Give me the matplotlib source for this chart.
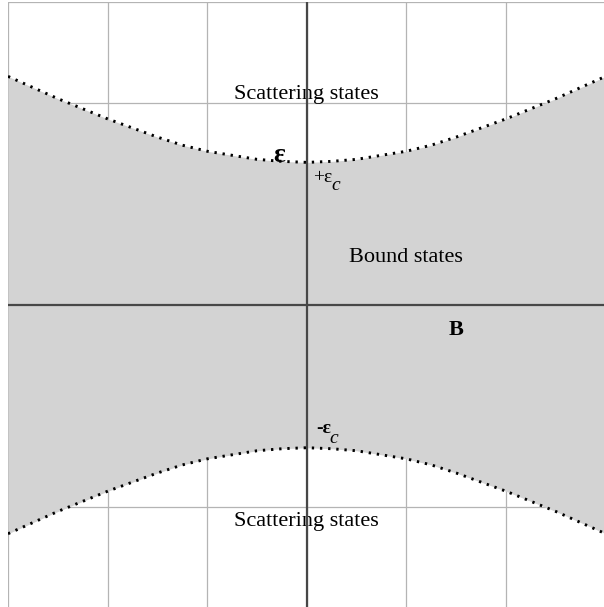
import matplotlib
matplotlib.use('Agg')
import matplotlib.pyplot as plt

# energy levels (upper and lower boundaries of the bound region)
b_vals = [-3.0, -2.75, -2.5, -2.25, -2.0, -1.75, -1.5, -1.25, -1.0, -0.75, -0.5, -0.25,
          0.0, 0.25, 0.5, 0.75, 1.0, 1.25, 1.5, 1.75, 2.0, 2.25, 2.5, 2.75, 3.0]
eps_upper = [2.26, 2.15, 2.04, 1.94, 1.84, 1.75, 1.66, 1.58, 1.52, 1.48, 1.44, 1.42,
             1.41, 1.42, 1.44, 1.48, 1.52, 1.58, 1.66, 1.75, 1.84, 1.94, 2.04, 2.15, 2.26]
eps_lower = [-2.26, -2.15, -2.04, -1.94, -1.84, -1.75, -1.66, -1.58, -1.52, -1.48, -1.44, -1.42,
             -1.41, -1.42, -1.44, -1.48, -1.52, -1.58, -1.66, -1.75, -1.84, -1.94, -2.04, -2.15, -2.26]
grid_ticks = [-3, -2, -1, 0, 1, 2, 3]

plt.rcParams['font.family'] = ['Liberation Serif', 'DejaVu Serif']

fig = plt.figure(figsize=(6.04, 6.07), dpi=100)
ax = fig.add_axes([8 / 604, -1.6 / 607, 597.6 / 604, 607.1 / 607])
ax.set_xlim(-3, 3)
ax.set_ylim(-3, 3)
ax.set_axisbelow(True)

ax.set_xticks(grid_ticks)
ax.set_yticks(grid_ticks)
ax.tick_params(length=0, labelbottom=False, labelleft=False)
ax.grid(True, color='#b4b4b4', linewidth=0.9)
for s in ax.spines.values():
    s.set_visible(False)

ax.fill_between(b_vals, eps_lower, eps_upper, color='#d3d3d3', linewidth=0, zorder=1)
ax.plot(b_vals, eps_upper, color='black', lw=2.1, dashes=(0.8, 2.0), zorder=4)
ax.plot(b_vals, eps_lower, color='black', lw=2.1, dashes=(0.8, 2.0), zorder=4)

ax.axhline(0, color='#474747', lw=1.6, zorder=3)
ax.axvline(0, color='#474747', lw=1.6, zorder=3)

ax.text(0, 2.035, 'Scattering states', fontsize=16, ha='center', va='baseline', zorder=2)
ax.text(0, -2.184, 'Scattering states', fontsize=16, ha='center', va='baseline', zorder=2)
ax.text(1.0, 0.428, 'Bound states', fontsize=16, ha='center', va='baseline', zorder=2)
ax.text(1.5, -0.296, 'B', fontsize=16, fontweight='bold', ha='center', va='baseline', zorder=5)
ax.text(-0.28, 1.418, 'ε', fontsize=20, fontweight='bold', ha='center', va='baseline', zorder=5)

ax.text(0.06, 1.218, '+ε', fontsize=14, ha='left', va='baseline', zorder=5)
ax.text(0.25, 1.136, 'c', fontsize=14, style='italic', ha='left', va='baseline', zorder=5)
ax.text(0.09, -1.265, '-ε', fontsize=14, fontweight='bold', ha='left', va='baseline', zorder=5)
ax.text(0.225, -1.364, 'c', fontsize=14, style='italic', ha='left', va='baseline', zorder=5)

fig.savefig('out.png', dpi=100)
plt.close()
